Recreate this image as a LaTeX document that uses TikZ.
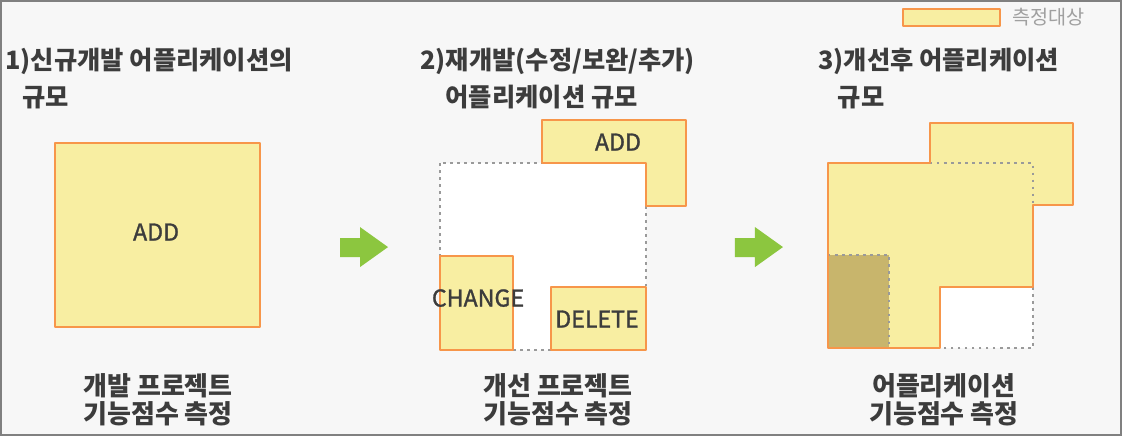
\documentclass[tikz,border=0pt]{standalone}
\usepackage{fontspec}
\setmainfont{Noto Sans CJK KR}
\newfontface\midfont[FakeBold=1.3]{Noto Sans CJK KR}
\definecolor{bgG}{HTML}{F7F7F7}
\definecolor{frameG}{HTML}{808080}
\definecolor{fillY}{HTML}{F8EEA2}
\definecolor{lineO}{HTML}{F7964A}
\definecolor{darkY}{HTML}{C8B56C}
\definecolor{dotG}{HTML}{9A9A9A}
\definecolor{arrowG}{HTML}{8CC63F}
\definecolor{txt}{HTML}{3C3C3C}
\definecolor{legendT}{HTML}{A0A0A0}

\begin{document}
\begin{tikzpicture}[x=0.025cm,y=-0.025cm,
  area/.style={fill=fillY,draw=lineO,line width=1.4pt,line join=round},
  dots/.style={draw=dotG,line width=1.8pt,dash pattern=on 1.8pt off 3.2pt},
  title/.style={font=\bfseries\fontsize{18}{26}\selectfont,text=txt,align=left,inner sep=0pt,anchor=north west},
  caption/.style={font=\bfseries\fontsize{18.5}{20}\selectfont,text=txt,align=center,inner sep=0pt},
  tag/.style={font=\midfont\fontsize{16.5}{18}\selectfont,text=txt,inner sep=0pt}]
% background and frame
\fill[bgG] (0,0) rectangle (1122,436);
\draw[frameG,line width=1.6pt] (1,1) rectangle (1121,435);
% legend
\draw[area] (903,9) rectangle (1000,26);
\node[font=\fontsize{14}{15}\selectfont,text=legendT,anchor=west,inner sep=0pt] (legend) at (1012,17) {측정대상};
% titles
\node[title] (title1) at (5,48) {1)신규개발 어플리케이션의\\\hspace*{12pt}규모};
\node[title] (title2) at (420,48) {2)재개발(수정/보완/추가)\\\hspace*{18pt}어플리케이션 규모};
\node[title] (title3) at (818,48) {3)개선후 어플리케이션\\\hspace*{14pt}규모};
% panel 1
\draw[area] (55,143) rectangle (260,327);
\node[tag] (add1) at (156,232) {ADD};
% arrows
\fill[arrowG] (340,238) -- (360,238) -- (360,227) -- (388,247) -- (360,267) -- (360,257) -- (340,257) -- cycle;
\fill[arrowG] (735,238) -- (755,238) -- (755,227) -- (783,247) -- (755,267) -- (755,257) -- (735,257) -- cycle;
% panel 2
\fill[white] (440,163) rectangle (646,350);
\draw[dots] (440,163) rectangle (646,350);
\draw[area] (542,120) -- (686,120) -- (686,206) -- (646,206) -- (646,163) -- (542,163) -- cycle;
\draw[area] (440,256) rectangle (513,350);
\draw[area] (551,287) rectangle (646,350);
\node[tag] (add2) at (618,142) {ADD};
\node[tag] (change) at (478,298) {CHANGE};
\node[tag] (delete) at (597,319) {DELETE};
% panel 3
\fill[fillY] (828,163) -- (930,163) -- (930,123) -- (1073,123) -- (1073,205) -- (1033,205) -- (1033,287) -- (940,287) -- (940,348) -- (828,348) -- cycle;
\fill[white] (940,287) rectangle (1033,348);
\fill[darkY] (828,255) rectangle (889,348);
\draw[dots] (930,163) -- (1033,163) -- (1033,205);
\draw[dots] (828,255) -- (889,255) -- (889,348);
\draw[dots] (1033,287) -- (1033,348) -- (940,348);
\draw[area,fill=none] (828,163) -- (930,163) -- (930,123) -- (1073,123) -- (1073,205) -- (1033,205) -- (1033,287) -- (940,287) -- (940,348) -- (828,348) -- cycle;
% captions
\node[caption] (cap1) at (158,400) {개발 프로젝트\\기능점수 측정};
\node[caption] (cap2) at (558,400) {개선 프로젝트\\기능점수 측정};
\node[caption] (cap3) at (944,400) {어플리케이션\\기능점수 측정};
\end{tikzpicture}
\end{document}
